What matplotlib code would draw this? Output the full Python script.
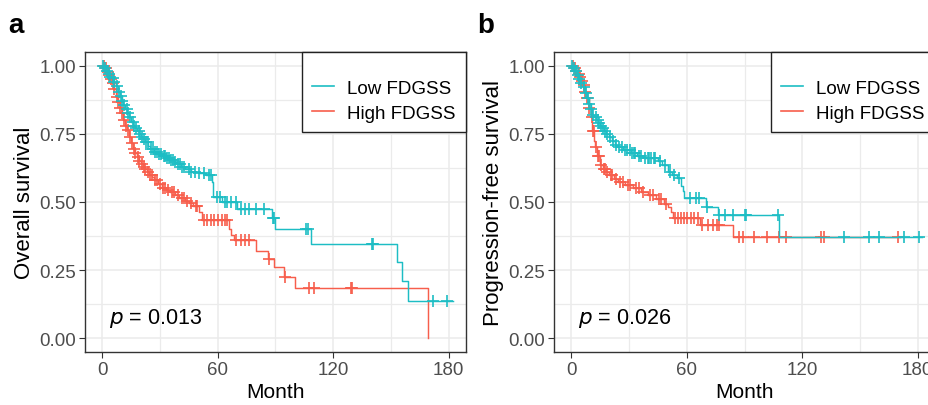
import numpy as np
import matplotlib
matplotlib.use("Agg")
import matplotlib.pyplot as plt
from matplotlib.lines import Line2D

plt.rcParams['font.family'] = ['Liberation Sans', 'DejaVu Sans']

# ---------------- data ----------------
group_labels = ["Low FDGSS", "High FDGSS"]
x_ticks = [0, 60, 120, 180]
y_ticks = [0.00, 0.25, 0.50, 0.75, 1.00]
y_tick_labels = ["0.00", "0.25", "0.50", "0.75", "1.00"]
panel_letters = ["a", "b"]
y_titles = ["Overall survival", "Progression-free survival"]
p_values = ["0.013", "0.026"]

# Panel a - overall survival, Low FDGSS (event times, survival after event)
os_low_t = [1, 2, 3, 4, 5, 6, 7, 8, 9, 10, 11, 12, 13, 14, 15, 16, 17, 18, 19, 20,
            21, 22, 24, 25, 27, 29, 31, 33, 35, 37, 39, 41, 43, 46, 50, 54, 57, 57.5,
            62, 70, 88, 90, 108.5, 153, 156, 159]
os_low_s = [0.99, 0.98, 0.97, 0.96, 0.955, 0.94, 0.925, 0.905, 0.89, 0.87, 0.855, 0.84,
            0.825, 0.81, 0.795, 0.78, 0.77, 0.76, 0.75, 0.74, 0.73, 0.72, 0.705, 0.695,
            0.685, 0.675, 0.67, 0.66, 0.655, 0.645, 0.64, 0.63, 0.62, 0.61, 0.605, 0.60,
            0.575, 0.52, 0.50, 0.476, 0.44, 0.40, 0.347, 0.28, 0.21, 0.137]
os_low_end = 182
os_low_cens = [0.5, 1.5, 2.4, 3.6, 4.2, 5.5, 6.3, 7.8, 8.5, 9.6, 10.4, 11.2, 12.7, 13.5,
               14.3, 15.8, 16.6, 17.4, 18.9, 19.7, 20.8, 21.5, 22.6, 23.8, 25.1, 26.2,
               27.4, 28.3, 29.5, 30.6, 31.8, 32.7, 33.5, 34.6, 35.8, 36.7, 37.9, 39.2,
               40.4, 41.6, 42.5, 44.8, 46.2, 48.1, 50.3, 52.8, 55.2, 56.3, 59.5, 61.0,
               63.5, 65.0, 67.0, 69.6, 72, 74, 76, 80, 84, 88.5, 89.3, 106, 106.8,
               140, 140.8, 172, 179]

# Panel a - overall survival, High FDGSS
os_high_t = [1, 2, 3, 4, 5, 6, 7, 8, 9, 10, 11, 12, 13, 14, 15, 16, 17, 18, 19, 20, 21,
             22, 23, 24.4, 26, 27, 29, 31, 33, 35, 38, 40, 43, 45, 47, 50, 52, 66, 67,
             68.5, 80, 86, 89, 94.5, 100, 169]
os_high_s = [0.99, 0.975, 0.965, 0.95, 0.935, 0.915, 0.885, 0.865, 0.845, 0.825, 0.80,
             0.78, 0.765, 0.74, 0.715, 0.695, 0.68, 0.665, 0.65, 0.64, 0.63, 0.62, 0.61,
             0.60, 0.59, 0.58, 0.565, 0.55, 0.545, 0.535, 0.524, 0.515, 0.505, 0.495,
             0.487, 0.465, 0.435, 0.40, 0.38, 0.36, 0.32, 0.29, 0.26, 0.225, 0.184, 0.0]
os_high_end = 169
os_high_cens = [0.8, 1.9, 2.7, 3.5, 4.6, 5.4, 6.2, 7.5, 8.3, 9.4, 10.2, 11.5, 12.3,
                13.4, 14.6, 15.3, 16.4, 17.2, 18.5, 19.3, 20.4, 21.6, 22.3, 23.5, 24.8,
                25.6, 27.5, 28.4, 30.2, 31.5, 32.6, 34.1, 36.2, 37.4, 39.3, 41.5, 42.6,
                44.1, 46.3, 48.5, 49.2, 53, 54.5, 56.5, 58, 60, 62, 63.5, 65, 69.6, 72,
                74, 76, 86.5, 94.8, 107.5, 110, 129, 130]

# Panel b - progression-free survival, Low FDGSS
pfs_low_t = [1, 2, 3, 4, 5, 6, 7, 8, 9, 10, 11, 12, 13, 14, 15, 16, 17, 18, 19.5, 21,
             22.5, 24, 27, 31, 34, 37.6, 45, 47, 50, 52.5, 55, 57, 57.8, 58.5, 70, 76, 108]
pfs_low_s = [0.99, 0.98, 0.965, 0.95, 0.935, 0.92, 0.90, 0.88, 0.86, 0.84, 0.82, 0.81,
             0.80, 0.79, 0.78, 0.77, 0.76, 0.75, 0.74, 0.725, 0.71, 0.70, 0.69, 0.68,
             0.67, 0.66, 0.65, 0.635, 0.61, 0.60, 0.587, 0.56, 0.54, 0.513, 0.48, 0.451,
             0.373]
pfs_low_end = 182
pfs_low_cens = [0.6, 1.4, 2.5, 3.3, 4.1, 5.2, 6.4, 7.5, 8.6, 9.4, 10.3, 11.5, 12.6, 13.8,
                14.5, 15.6, 16.4, 17.7, 18.6, 20.2, 21.7, 23.3, 25.0, 26.1, 27.8, 29.0,
                30.3, 31.6, 32.4, 33.2, 35.0, 36.1, 38.5, 39.7, 40.6, 41.4, 42.8, 43.7,
                46.0, 48.5, 51.2, 53.6, 56.0, 61.5, 65, 66.5, 70.5, 77, 80, 84, 90, 91,
                107.5, 141.5, 154.5, 160, 173, 180.5]

# Panel b - progression-free survival, High FDGSS
pfs_high_t = [1, 2, 3, 4, 5, 6, 7, 8, 9, 10, 11, 12, 12.5, 13.5, 15, 16.5, 18, 19.5, 22,
              24, 28, 32, 36, 39.7, 44, 48, 50, 52, 53, 67, 84]
pfs_high_s = [0.99, 0.98, 0.97, 0.96, 0.945, 0.93, 0.905, 0.88, 0.845, 0.81, 0.76, 0.725,
              0.70, 0.67, 0.635, 0.62, 0.61, 0.60, 0.585, 0.575, 0.562, 0.55, 0.537,
              0.524, 0.51, 0.494, 0.48, 0.465, 0.443, 0.414, 0.373]
pfs_high_end = 171
pfs_high_cens = [0.8, 1.7, 2.6, 3.8, 4.7, 5.6, 6.6, 7.3, 8.4, 9.2, 10.5, 11.3, 11.8, 12.9,
                 13.7, 14.4, 15.5, 16.8, 17.6, 18.5, 20.5, 21.4, 23.0, 25.5, 26.7, 29.3,
                 30.7, 33.8, 35.0, 37.2, 40.8, 42.3, 45.4, 46.6, 49.0, 54, 55.5, 57, 58.5,
                 60, 62, 64, 66, 68, 71, 73.5, 75.5, 77, 87, 89, 95, 101.5, 108, 111.5,
                 130, 131.5, 170]

# ---------------- style ----------------
col_low = "#1DBDC4"
col_high = "#F75E4C"
grid_col = "#EBEBEB"
frame_col = "#333333"
tick_col = "#4D4D4D"

W, H = 929, 406
fig = plt.figure(figsize=(W / 100, H / 100), dpi=100)

panels = [
    dict(left=85, t_low=os_low_t, s_low=os_low_s, e_low=os_low_end, c_low=os_low_cens,
         t_high=os_high_t, s_high=os_high_s, e_high=os_high_end, c_high=os_high_cens),
    dict(left=554, t_low=pfs_low_t, s_low=pfs_low_s, e_low=pfs_low_end, c_low=pfs_low_cens,
         t_high=pfs_high_t, s_high=pfs_high_s, e_high=pfs_high_end, c_high=pfs_high_cens),
]


def km(ax, times, surv, end, cens, color):
    t = np.concatenate([[0.0], np.asarray(times, float)])
    s = np.concatenate([[1.0], np.asarray(surv, float)])
    tt = np.concatenate([t, [end]])
    ss = np.concatenate([s, [s[-1]]])
    ax.step(tt, ss, where='post', color=color, lw=1.05, zorder=3)
    c = np.asarray(cens, float)
    idx = np.searchsorted(t, c, side='right') - 1
    ax.plot(c, s[idx], ls='none', marker='+', ms=8.5, mew=1.2, color=color, zorder=3)


ax_w, ax_h = 381, 300
ax_bottom = 53
for i, p in enumerate(panels):
    ax = fig.add_axes([p['left'] / W, ax_bottom / H, ax_w / W, ax_h / H])
    ax.set_xlim(-9, 189)
    ax.set_ylim(-0.05, 1.05)
    ax.set_xticks(x_ticks)
    ax.set_yticks(y_ticks)
    ax.set_yticklabels(y_tick_labels)
    ax.set_xticks([30, 90, 150], minor=True)
    ax.set_yticks([0.125, 0.375, 0.625, 0.875], minor=True)
    ax.grid(True, which='major', color=grid_col, lw=1.1, zorder=0)
    ax.grid(True, which='minor', color=grid_col, lw=0.9, zorder=0)
    ax.set_axisbelow(True)
    ax.tick_params(which='minor', length=0)
    ax.tick_params(which='major', direction='out', length=4, width=0.8, color=frame_col,
                   labelsize=13.5, labelcolor=tick_col, pad=2.5)
    for sp in ax.spines.values():
        sp.set_color(frame_col)
        sp.set_linewidth(1.0)

    km(ax, p['t_high'], p['s_high'], p['e_high'], p['c_high'], col_high)
    km(ax, p['t_low'], p['s_low'], p['e_low'], p['c_low'], col_low)

    ax.set_xlabel("Month", fontsize=15, color='black', labelpad=3)
    ax.set_ylabel(y_titles[i], fontsize=16, color='black', labelpad=3)
    ax.text(3.3, 0.056, r"$\it{p}$ = " + p_values[i], fontsize=15.5, ha='left',
            va='baseline', color='black')

    handles = [Line2D([], [], color=col_low, lw=1.2), Line2D([], [], color=col_high, lw=1.2)]
    leg = ax.legend(handles, group_labels, loc='upper right', bbox_to_anchor=(1, 1),
                    borderaxespad=0, frameon=True, fancybox=False, framealpha=1,
                    edgecolor='#222222', fontsize=13.5, handlelength=1.15,
                    handletextpad=0.7, labelspacing=0.4, borderpad=0.55,
                    title=' ', title_fontsize=8)
    leg.get_frame().set_linewidth(1.0)

    fig.text((p['left'] - 77) / W, 1 - 33 / H, panel_letters[i], fontsize=20,
             fontweight='bold', ha='left', va='baseline')

fig.savefig("out.png", dpi=100)
